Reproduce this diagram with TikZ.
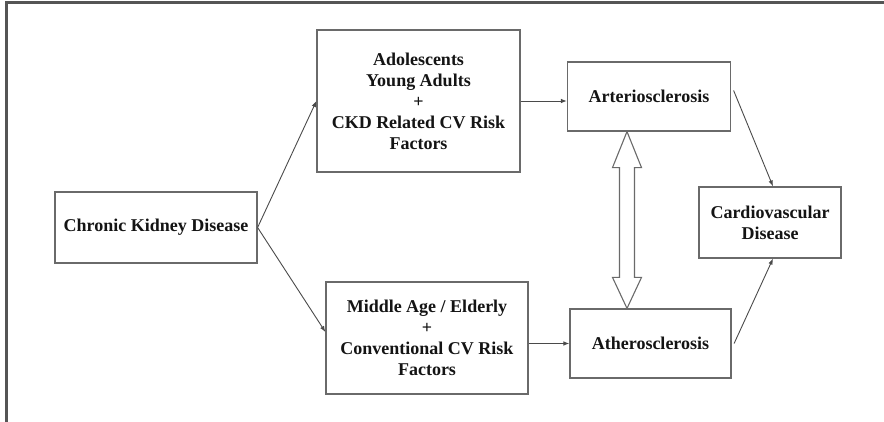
\documentclass[tikz,border=0pt]{standalone}
\usepackage{fontspec}
\setmainfont{Liberation Serif}
\usetikzlibrary{arrows.meta,calc}
\definecolor{frame}{HTML}{555555}
\definecolor{edge}{HTML}{6A6A6A}
\definecolor{wire}{HTML}{4A4A4A}
\begin{document}
\begin{tikzpicture}[x=1pt,y=-1pt,
  box/.style={draw=edge,line width=1.2pt,fill=white,align=center,inner sep=0pt,
    font=\fontsize{18}{21}\selectfont\bfseries,text=black!92},
  link/.style={draw=wire,line width=0.9pt,-{Latex[length=6pt,width=4.5pt]}},
  twoway/.style={draw=edge,line width=1.1pt,fill=white,line join=miter}]
\useasboundingbox (0,0) rectangle (884,422);
% outer frame: top and left rules only
\draw[frame,line width=3pt] (6.5,422) -- (6.5,3) -- (884,3);

\node[box,minimum width=202pt,minimum height=71pt] (ckd) at (156,227.5) {Chronic Kidney Disease};
\node[box,minimum width=203pt,minimum height=142pt] (young) at (418.5,101)
  {Adolescents\\Young Adults\\+\\CKD Related CV Risk\\Factors};
\node[box,minimum width=202pt,minimum height=112pt] (elderly) at (427,338)
  {Middle Age / Elderly\\+\\Conventional CV Risk\\Factors};
\node[box,minimum width=163pt,minimum height=69pt] (arterio) at (649,96.5) {Arteriosclerosis};
\node[box,minimum width=161pt,minimum height=69pt] (athero) at (650.5,343.5) {Atherosclerosis};
\node[box,minimum width=142pt,minimum height=71pt] (cvd) at (770,222.5) {Cardiovascular\\Disease};

\draw[link] (ckd.east) -- (young.west);
\draw[link] (ckd.east) -- ([yshift=6pt]elderly.west);
\draw[link] (young.east) -- (young.east -| arterio.west);
\draw[link] (athero.west -| elderly.east) -- (athero.west);
\draw[link] ([xshift=2.5pt,yshift=6pt]arterio.east) -- ([xshift=3pt]cvd.north);
\draw[link] ([xshift=2.5pt]athero.east) -- ([xshift=3pt]cvd.south);

% hollow double-headed arrow between the two sclerosis boxes
\coordinate (dtop) at ($(arterio.south)+(-22,0)$);
\coordinate (dbot) at ($(athero.north)+(-23.5,0)$);
\draw[twoway] (dtop) -- ++(14.5,36) -- ++(-7,0) -- ($(dbot)+(7.5,-31)$)
  -- ++(7,0) -- (dbot) -- ++(-14.5,-31) -- ++(7,0) -- ($(dtop)+(-7.5,36)$) -- ++(-7,0) -- cycle;
\end{tikzpicture}
\end{document}
